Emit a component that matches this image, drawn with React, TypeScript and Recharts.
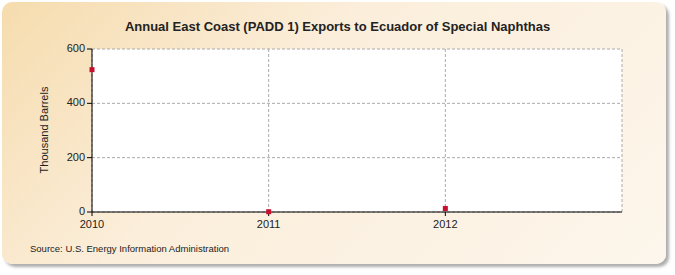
import React from "react";
import { ScatterChart, Scatter, XAxis, YAxis, CartesianGrid } from "recharts";

const years = [2010, 2011, 2012];
const exportsKb = [524, 1, 13];
const yTicks = [0, 200, 400, 600];

const data = years.map((year, i) => ({ year, value: exportsKb[i] }));

const font = "Arial, 'Liberation Sans', sans-serif";

const Square = (props: any) => {
  const { cx, cy } = props;
  return <rect x={cx - 2.5} y={cy - 2.5} width={5} height={5} fill="#c8102e" />;
};

export default function App() {
  return (
    <div style={{ position: "absolute", left: 0, top: 0, width: 675, height: 275, fontFamily: font }}>
      <div
        style={{
          position: "absolute",
          left: 2,
          top: 2,
          width: 664,
          height: 262,
          borderRadius: 10,
          background: "linear-gradient(135deg, #f6dcae 0%, #fbeedb 40%, #fdf6ec 100%)",
          boxShadow: "3px 3px 3px rgba(120,120,120,0.6)",
        }}
      />
      <div
        style={{
          position: "absolute",
          left: 0,
          width: 675,
          top: 19,
          textAlign: "center",
          fontSize: 13,
          fontWeight: "bold",
          color: "#222",
        }}
      >
        Annual East Coast (PADD 1) Exports to Ecuador of Special Naphthas
      </div>
      <div
        style={{
          position: "absolute",
          left: 44,
          top: 130,
          transform: "translate(-50%, -50%) rotate(-90deg)",
          fontSize: 11,
          color: "#222",
          whiteSpace: "nowrap",
        }}
      >
        Thousand Barrels
      </div>
      <div style={{ position: "absolute", left: 30, top: 243, fontSize: 9.5, color: "#222" }}>
        Source: U.S. Energy Information Administration
      </div>
      <div style={{ position: "absolute", left: 0, top: 0 }}>
        <ScatterChart width={675} height={275} margin={{ top: 49, right: 53, bottom: 43, left: 30 }}>
          <CartesianGrid fill="#ffffff" stroke="#aaaaaa" strokeDasharray="3 2" />
          <XAxis
            type="number"
            dataKey="year"
            domain={[2010, 2013]}
            ticks={years}
            height={20}
            axisLine={{ stroke: "#000" }}
            tickLine={{ stroke: "#000" }}
            tickSize={4}
            tick={{ fill: "#222", fontSize: 11, fontFamily: font, dy: 2 }}
          />
          <YAxis
            type="number"
            dataKey="value"
            domain={[0, 600]}
            ticks={yTicks}
            width={62}
            axisLine={{ stroke: "#000" }}
            tickLine={{ stroke: "#000" }}
            tickSize={5}
            tick={{ fill: "#222", fontSize: 11, fontFamily: font, dy: -1 }}
          />
          <Scatter data={data} shape={<Square />} isAnimationActive={false} />
        </ScatterChart>
      </div>
    </div>
  );
}
